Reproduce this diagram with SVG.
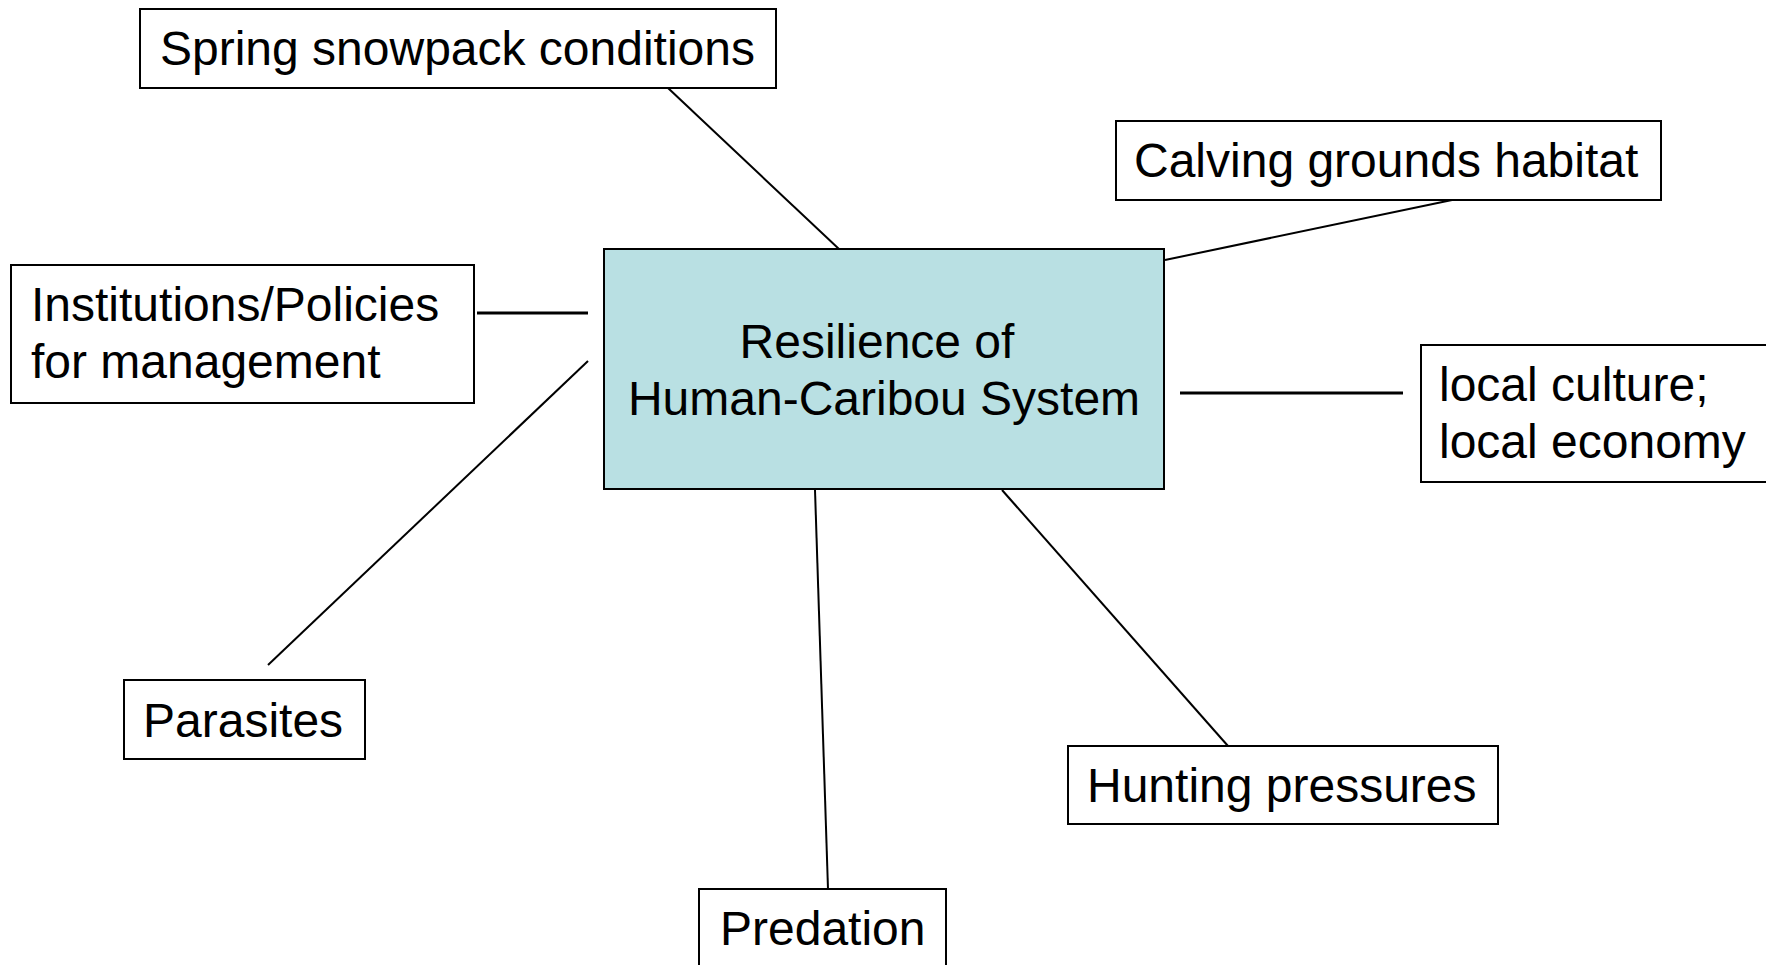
<svg xmlns="http://www.w3.org/2000/svg" width="1766" height="965" viewBox="0 0 1766 965">
<style>
.box{fill:#ffffff;stroke:#000000;stroke-width:2}
.core{fill:#B9E0E3;stroke:#000000;stroke-width:2}
.lbl{font-family:"Liberation Sans",Arial,sans-serif;font-size:48px;fill:#000000}
.c{stroke:#000000;stroke-width:2;fill:none}
.h{stroke:#000000;stroke-width:3;fill:none}
</style>
<rect width="1766" height="965" fill="#ffffff"/>
<g id="connectors">
<line class="c" x1="668" y1="88" x2="839" y2="249"/>
<line class="c" x1="1452" y1="200" x2="1165" y2="260"/>
<line class="h" x1="477" y1="313" x2="588" y2="313"/>
<line class="c" x1="588" y1="361" x2="268" y2="665"/>
<line class="h" x1="1180" y1="393" x2="1403" y2="393"/>
<line class="c" x1="815" y1="490" x2="828" y2="889"/>
<line class="c" x1="1002" y1="490" x2="1228" y2="746"/>
</g>
<g id="center">
<rect class="core" x="604" y="249" width="560" height="240"/>
<text class="lbl" x="877" y="358" text-anchor="middle">Resilience of</text>
<text class="lbl" x="884" y="415" text-anchor="middle">Human-Caribou System</text>
</g>
<g id="spring">
<rect class="box" x="140" y="9" width="636" height="79"/>
<text class="lbl" x="160" y="65">Spring snowpack conditions</text>
</g>
<g id="calving">
<rect class="box" x="1116" y="121" width="545" height="79"/>
<text class="lbl" x="1134" y="177">Calving grounds habitat</text>
</g>
<g id="institutions">
<rect class="box" x="11" y="265" width="463" height="138"/>
<text class="lbl" x="31" y="321">Institutions/Policies</text>
<text class="lbl" x="31" y="378">for management</text>
</g>
<g id="local">
<rect class="box" x="1421" y="345" width="360" height="137"/>
<text class="lbl" x="1439" y="401">local culture;</text>
<text class="lbl" x="1439" y="458">local economy</text>
</g>
<g id="parasites">
<rect class="box" x="124" y="680" width="241" height="79"/>
<text class="lbl" x="143" y="737">Parasites</text>
</g>
<g id="hunting">
<rect class="box" x="1068" y="746" width="430" height="78"/>
<text class="lbl" x="1087" y="802">Hunting pressures</text>
</g>
<g id="predation">
<rect class="box" x="699" y="889" width="247" height="90"/>
<text class="lbl" x="720" y="945">Predation</text>
</g>
</svg>
